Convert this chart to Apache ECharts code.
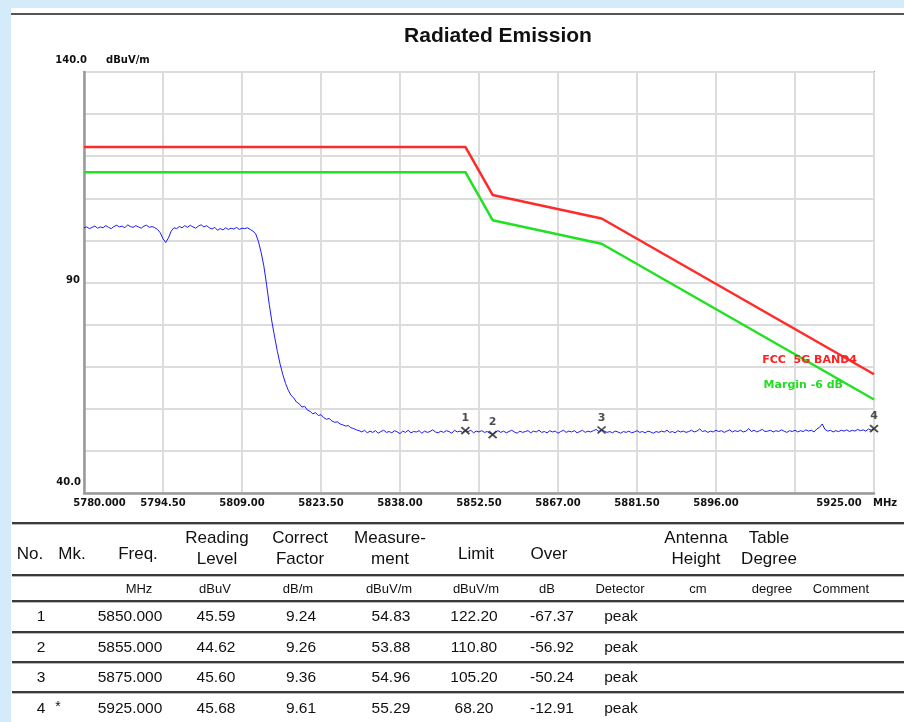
<!DOCTYPE html>
<html><head><meta charset="utf-8">
<script src="https://cdn.jsdelivr.net/npm/echarts@6/dist/echarts.min.js"></script>
<style>
html,body{margin:0;padding:0;width:904px;height:722px;overflow:hidden;background:#d4ecf9;}
#panel{position:absolute;left:11px;top:8px;width:893px;height:714px;background:#fff;}
#topline{position:absolute;left:11px;top:13px;width:893px;height:2px;background:#555;}
#chart{position:absolute;left:0;top:0;width:904px;height:516px;}
#table{position:absolute;left:0;top:0;width:904px;height:722px;font-family:'Liberation Sans',Arial,sans-serif;pointer-events:none;}
.t{position:absolute;white-space:nowrap;transform:translate(-50%,-50%);color:#111;line-height:1;}
.hl{position:absolute;left:12px;width:892px;height:2px;background:#3a3a3a;border-bottom:1px solid #b8b8b8;}
</style></head>
<body>
<div id="panel"></div>
<div id="topline"></div>
<div id="chart"></div>
<div id="table"></div>
<script>
// ---------- data ----------
const FREQ_MIN = 5780, FREQ_MAX = 5925, FREQ_STEP = 14.5;
const xTickLabels = ['5780.000','5794.50','5809.00','5823.50','5838.00','5852.50','5867.00','5881.50','5896.00','','5925.00'];
const yTickLabels = {140:'140.0', 90:'90', 40:'40.0'};

const limitFreq  = [5780, 5850, 5855, 5875, 5925];
const limitLevel = [122.2, 122.2, 110.8, 105.2, 68.2];
const marginFreq  = [5780, 5850, 5855, 5875, 5925];
const marginLevel = [116.2, 116.2, 104.8, 99.2, 62.2];

// trace: 0.5 MHz steps from 5780 to 5925
const traceStart = 5780, traceStep = 0.5;
const traceLevel = [
 103.0,103.2,102.8,103.1,103.4,102.9,103.2,103.0,103.5,103.1,
 102.8,103.3,103.6,103.2,103.4,103.0,103.7,103.3,103.1,103.5,
 103.2,102.9,103.4,103.6,103.1,103.3,103.0,102.6,101.8,100.4,
 99.5,100.6,102.2,103.0,102.8,103.3,103.0,103.5,103.1,103.6,
 103.2,102.9,103.4,103.7,103.2,103.5,103.0,102.7,103.1,102.4,
 102.8,102.5,103.0,102.6,102.9,102.7,103.1,102.6,102.9,102.8,
 103.0,102.6,102.2,101.6,99.8,97.2,94.0,89.6,84.8,80.6,
 77.0,73.6,70.6,68.1,66.0,64.4,63.2,62.6,61.6,61.2,
 60.4,60.6,59.7,59.4,58.8,59.1,58.4,58.6,57.9,57.5,
 57.7,57.1,56.8,56.9,56.4,56.2,55.9,56.0,55.5,55.3,
 55.0,54.8,
 54.5,54.9,54.3,54.7,54.4,54.8,54.2,54.6,54.9,54.4,
 54.6,54.3,54.8,54.5,54.1,54.7,54.4,54.9,54.3,54.6,
 54.5,54.8,54.2,54.7,54.4,54.6,55.0,54.5,54.3,54.7,
 54.4,54.8,54.6,54.2,54.9,54.5,54.7,54.4,54.83,54.6,
 54.9,54.3,54.7,54.5,54.8,54.4,54.6,54.2,53.88,54.5,
 54.8,54.4,54.7,54.3,54.6,54.9,54.5,54.2,54.7,54.4,
 54.6,54.8,54.3,54.7,54.5,54.9,54.4,54.6,54.3,54.8,
 54.5,54.7,54.2,54.6,54.9,54.4,54.7,54.5,54.8,54.3,
 54.6,54.9,54.4,54.7,54.5,54.8,55.1,54.6,54.96,54.7,
 54.4,54.6,54.3,54.7,54.5,54.2,54.6,54.4,54.7,54.3,
 54.5,54.8,54.4,54.6,54.3,54.7,54.5,54.2,54.6,54.4,
 54.7,54.5,54.9,54.4,54.6,54.3,54.8,54.5,54.7,54.4,
 54.6,54.9,54.5,54.7,55.2,54.6,54.8,54.4,54.7,54.5,
 54.9,54.6,54.8,54.4,54.7,55.0,54.5,54.8,54.6,54.9,
 54.5,54.7,55.3,54.6,54.9,54.5,54.8,55.1,54.6,54.7,
 54.9,54.5,54.8,54.6,55.0,54.7,54.4,54.8,54.6,54.9,
 54.5,54.8,54.6,55.0,54.7,54.9,54.5,55.2,55.6,56.4,
 55.1,54.7,54.9,54.5,54.8,54.6,54.9,54.7,55.0,54.6,
 54.9,54.7,55.1,54.8,55.0,54.7,55.2,54.9,55.29
];

// marker table
const mkNo        = ['1','2','3','4'];
const mkMark      = ['','','','*'];
const mkFreq      = [5850.000, 5855.000, 5875.000, 5925.000];
const mkReading   = ['45.59','44.62','45.60','45.68'];
const mkFactor    = ['9.24','9.26','9.36','9.61'];
const mkMeasure   = [54.83, 53.88, 54.96, 55.29];
const mkLimit     = ['122.20','110.80','105.20','68.20'];
const mkOver      = ['-67.37','-56.92','-50.24','-12.91'];
const mkDetector  = ['peak','peak','peak','peak'];

// ---------- chart ----------
const off = f => +(f - FREQ_MIN).toFixed(4);
const traceData = traceLevel.map((v,i)=>[off(traceStart + i*traceStep), v]);
const limitData = limitFreq.map((f,i)=>[off(f), limitLevel[i]]);
const marginData = marginFreq.map((f,i)=>[off(f), marginLevel[i]]);
const markerData = mkFreq.map((f,i)=>({value:[off(f), mkMeasure[i]], name:mkNo[i]}));

const tickFont = {fontFamily:'DejaVu Sans', fontWeight:'bold', fontSize:10, color:'#111'};
const chart = echarts.init(document.getElementById('chart'), null, {renderer:'canvas'});
chart.setOption({
  animation:false,
  backgroundColor:'transparent',
  title:{text:'Radiated Emission', left:493, top:21, textAlign:'center',
    textStyle:{fontFamily:'Liberation Sans', fontWeight:'bold', fontSize:21, color:'#111'}},
  grid:{left:84, top:72, width:790, height:421, show:true, borderColor:'#a6a6a6', borderWidth:2, containLabel:false},
  xAxis:{type:'value', min:0, max:FREQ_MAX-FREQ_MIN, interval:FREQ_STEP,
    name:'MHz', nameLocation:'end', nameGap:-1,
    nameTextStyle:Object.assign({}, tickFont, {align:'left', verticalAlign:'top', padding:[5,0,0,0]}),
    axisLine:{show:true, lineStyle:{color:'#999', width:2.5}},
    axisTick:{show:false},
    splitLine:{show:true, lineStyle:{color:'#dcdcdc', width:2}},
    axisLabel:Object.assign({}, tickFont, {margin:5, showMinLabel:true, showMaxLabel:true,
      formatter:(v)=>{
        const k = Math.round(v/FREQ_STEP);
        const s = xTickLabels[k] || '';
        if(!s) return '';
        if(k===0) return '{first|'+s+'}';
        if(k===xTickLabels.length-1) return '{last|'+s+'}';
        return s;
      },
      rich:{
        first:Object.assign({}, tickFont, {padding:[0,0,0,31]}),
        last:Object.assign({}, tickFont, {padding:[0,70,0,0]})
      }})
  },
  yAxis:{type:'value', min:40, max:140, interval:10,
    name:'dBuV/m', nameLocation:'end', nameGap:12,
    nameTextStyle:Object.assign({}, tickFont, {align:'left', verticalAlign:'middle', padding:[0,0,0,22]}),
    axisLine:{show:true, lineStyle:{color:'#999', width:2.5}},
    axisTick:{show:false},
    splitLine:{show:true, lineStyle:{color:'#dcdcdc', width:2}},
    axisLabel:Object.assign({}, tickFont, {margin:-3, showMinLabel:true, showMaxLabel:true,
      formatter:(v)=>{
        const s = yTickLabels[v];
        if(!s) return '';
        if(v===140) return '{top|'+s+'}';
        if(v===40) return '{bot|'+s+'}';
        return '{mid|'+s+'}';
      },
      rich:{
        top:Object.assign({}, tickFont, {padding:[0,0,24,0]}),
        mid:Object.assign({}, tickFont, {padding:[0,7,4,0]}),
        bot:Object.assign({}, tickFont, {padding:[0,6,22,0]})
      }})
  },
  series:[
    {type:'line', data:limitData, symbol:'none', lineStyle:{color:'#ff2a2a', width:2.5}, z:3},
    {type:'line', data:marginData, symbol:'none', lineStyle:{color:'#22e022', width:2.5}, z:3},
    {type:'line', data:traceData, symbol:'none', lineStyle:{color:'#1a1aff', width:1}, z:4},
    {type:'scatter', data:markerData, symbol:'path://M0,0L10,10M10,0L0,10', symbolSize:[8,7],
      itemStyle:{color:'none', borderColor:'#222', borderWidth:1.8}, z:6,
      label:{show:true, position:'top', distance:1, formatter:p=>p.name,
        fontFamily:'DejaVu Sans', fontWeight:'bold', fontSize:11, color:'#222'}}
  ],
  graphic:[
    {type:'text', x:857, y:360, z:10, style:{text:'FCC  5G BAND4', align:'right', verticalAlign:'middle',
      fill:'#ff2020', font:'bold 11px "DejaVu Sans"'}},
    {type:'text', x:843, y:385, z:10, style:{text:'Margin -6 dB', align:'right', verticalAlign:'middle',
      fill:'#22dd22', font:'bold 11px "DejaVu Sans"'}}
  ]
});

// ---------- table ----------
const tbl = document.getElementById('table');
function txt(s, cx, cy, size){
  const d = document.createElement('div');
  d.className='t'; d.textContent=s;
  d.style.left=cx+'px'; d.style.top=cy+'px'; d.style.fontSize=size+'px';
  tbl.appendChild(d);
}
function hline(y){
  const d=document.createElement('div'); d.className='hl'; d.style.top=y+'px'; tbl.appendChild(d);
}
[522,574,600,631,661,691].forEach(hline);
const H1=537, H2=558, HS=553, HU=588;
const headSingle=[['No.',30],['Mk.',72],['Freq.',138],['Limit',476],['Over',549]];
const headDouble=[['Reading','Level',217],['Correct','Factor',300],['Measure-','ment',390],['Antenna','Height',696],['Table','Degree',769]];
const units=[['MHz',139],['dBuV',215],['dB/m',298],['dBuV/m',389],['dBuV/m',476],['dB',547],['Detector',620],['cm',698],['degree',772],['Comment',841]];
headSingle.forEach(h=>txt(h[0],h[1],HS,17));
headDouble.forEach(h=>{txt(h[0],h[2],H1,17);txt(h[1],h[2],H2,17);});
units.forEach(u=>txt(u[0],u[1],HU,13));
const rowY=[616,647,677,708];
mkNo.forEach((n,i)=>{
  const y=rowY[i];
  txt(n,41,y,15.5);
  if(mkMark[i]) txt(mkMark[i],58,y-2,14);
  txt(mkFreq[i].toFixed(3),130,y,15.5);
  txt(mkReading[i],216,y,15.5);
  txt(mkFactor[i],301,y,15.5);
  txt(mkMeasure[i].toFixed(2),391,y,15.5);
  txt(mkLimit[i],474,y,15.5);
  txt(mkOver[i],552,y,15.5);
  txt(mkDetector[i],621,y,15.5);
});
</script>
</body></html>
